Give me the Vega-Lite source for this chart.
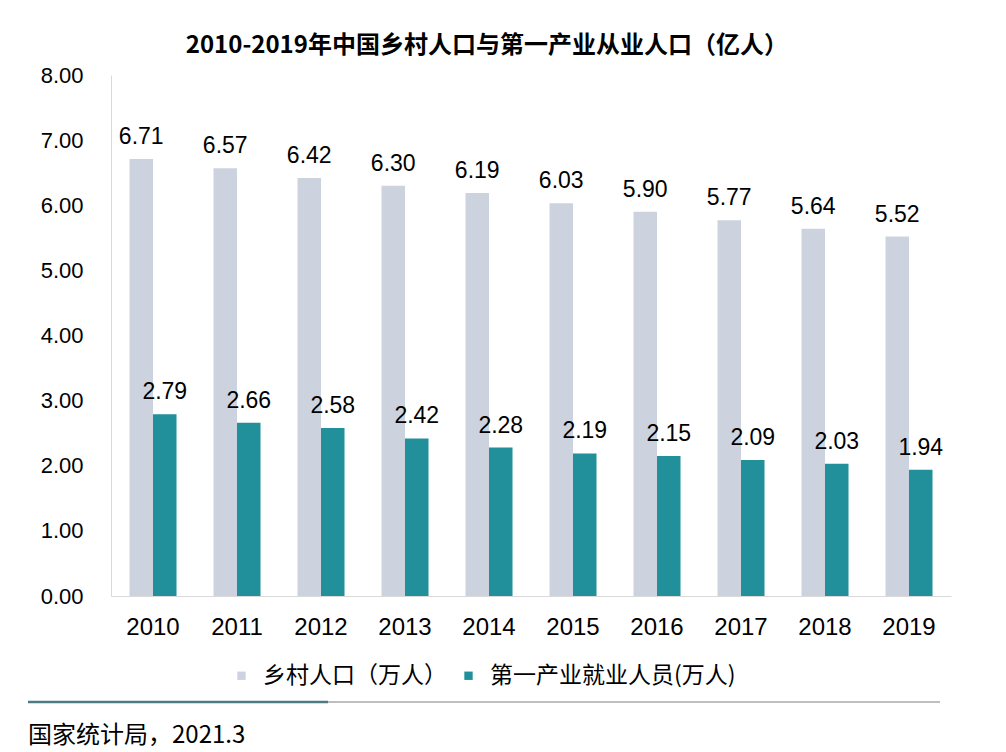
{
  "$schema": "https://vega.github.io/schema/vega-lite/v6.json",
  "background": "white",
  "padding": {"left": 26, "top": 34, "right": 20, "bottom": 14},
  "title": {
    "text": "2010-2019年中国乡村人口与第一产业从业人口（亿人）",
    "font": "Noto Sans CJK SC",
    "fontSize": 24,
    "fontWeight": "bold",
    "color": "#000000",
    "anchor": "start",
    "dx": 159,
    "offset": 6
  },
  "datasets": {
    "main": [
      {"year": "2010", "series": "乡村人口（万人）", "value": 6.71},
      {"year": "2011", "series": "乡村人口（万人）", "value": 6.57},
      {"year": "2012", "series": "乡村人口（万人）", "value": 6.42},
      {"year": "2013", "series": "乡村人口（万人）", "value": 6.30},
      {"year": "2014", "series": "乡村人口（万人）", "value": 6.19},
      {"year": "2015", "series": "乡村人口（万人）", "value": 6.03},
      {"year": "2016", "series": "乡村人口（万人）", "value": 5.90},
      {"year": "2017", "series": "乡村人口（万人）", "value": 5.77},
      {"year": "2018", "series": "乡村人口（万人）", "value": 5.64},
      {"year": "2019", "series": "乡村人口（万人）", "value": 5.52},
      {"year": "2010", "series": "第一产业就业人员(万人)", "value": 2.79},
      {"year": "2011", "series": "第一产业就业人员(万人)", "value": 2.66},
      {"year": "2012", "series": "第一产业就业人员(万人)", "value": 2.58},
      {"year": "2013", "series": "第一产业就业人员(万人)", "value": 2.42},
      {"year": "2014", "series": "第一产业就业人员(万人)", "value": 2.28},
      {"year": "2015", "series": "第一产业就业人员(万人)", "value": 2.19},
      {"year": "2016", "series": "第一产业就业人员(万人)", "value": 2.15},
      {"year": "2017", "series": "第一产业就业人员(万人)", "value": 2.09},
      {"year": "2018", "series": "第一产业就业人员(万人)", "value": 2.03},
      {"year": "2019", "series": "第一产业就业人员(万人)", "value": 1.94}
    ],
    "footer": [
      {"source": "国家统计局，2021.3"}
    ]
  },
  "spacing": 12,
  "vconcat": [
    {
      "width": 840,
      "height": 521,
      "data": {"name": "main"},
      "resolve": {"legend": {"color": "independent"}},
      "encoding": {
        "x": {
          "field": "year",
          "type": "nominal",
          "sort": null,
          "scale": {"paddingInner": 0.44, "paddingOuter": 0.22},
          "axis": {
            "title": null,
            "labelAngle": 0,
            "labelFontSize": 24,
            "labelFont": "Liberation Sans",
            "labelColor": "#000000",
            "labelPadding": 19,
            "ticks": false,
            "domainColor": "#d9d9d9",
            "domainWidth": 1
          }
        },
        "xOffset": {
          "field": "series",
          "type": "nominal",
          "sort": ["乡村人口（万人）", "第一产业就业人员(万人)"],
          "scale": {"paddingInner": 0, "paddingOuter": 0}
        },
        "y": {
          "field": "value",
          "type": "quantitative",
          "scale": {"domain": [0, 8]},
          "axis": {
            "title": null,
            "values": [0, 1, 2, 3, 4, 5, 6, 7, 8],
            "format": ".2f",
            "grid": false,
            "ticks": false,
            "labelFontSize": 22,
            "labelFont": "Liberation Sans",
            "labelColor": "#000000",
            "labelPadding": 28,
            "domainColor": "#d9d9d9",
            "domainWidth": 1
          }
        }
      },
      "layer": [
        {
          "mark": {"type": "bar"},
          "encoding": {
            "color": {
              "field": "series",
              "type": "nominal",
              "scale": {
                "domain": ["乡村人口（万人）", "第一产业就业人员(万人)"],
                "range": ["#CDD3DE", "#21909A"]
              },
              "legend": {
                "orient": "none",
                "legendX": 119,
                "legendY": 589,
                "direction": "horizontal",
                "title": null,
                "symbolType": "square",
                "symbolSize": 70,
                "symbolStrokeWidth": 0,
                "labelFontSize": 23,
                "labelFont": "Noto Sans CJK SC",
                "labelColor": "#000000",
                "labelOffset": 10,
                "columnPadding": 10,
                "labelLimit": 400
              }
            }
          }
        },
        {
          "mark": {
            "type": "text",
            "baseline": "alphabetic",
            "dy": -15,
            "fontSize": 23,
            "font": "Liberation Sans",
            "color": "#000000"
          },
          "encoding": {
            "text": {"field": "value", "type": "quantitative", "format": ".2f"}
          }
        }
      ]
    },
    {
      "width": 829,
      "height": 34,
      "data": {"name": "footer"},
      "layer": [
        {
          "mark": {"type": "rule", "color": "#a7aaad", "strokeWidth": 1.5},
          "encoding": {
            "x": {"datum": 0, "type": "quantitative", "scale": {"domain": [0, 1], "range": [-83, 829]}, "axis": null},
            "x2": {"datum": 1},
            "y": {"datum": 1, "type": "quantitative", "scale": {"domain": [0, 1]}, "axis": null}
          }
        },
        {
          "mark": {"type": "rule", "color": "#4d7b80", "strokeWidth": 2.5},
          "encoding": {
            "x": {"datum": 0, "type": "quantitative"},
            "x2": {"datum": 0.329},
            "y": {"datum": 1, "type": "quantitative"}
          }
        },
        {
          "mark": {
            "type": "text",
            "align": "left",
            "baseline": "middle",
            "fontSize": 24,
            "font": "Noto Sans CJK SC",
            "color": "#000000"
          },
          "encoding": {
            "x": {"datum": 0, "type": "quantitative"},
            "y": {"datum": 0, "type": "quantitative"},
            "text": {"field": "source"}
          }
        }
      ]
    }
  ],
  "config": {
    "view": {"stroke": null}
  }
}
